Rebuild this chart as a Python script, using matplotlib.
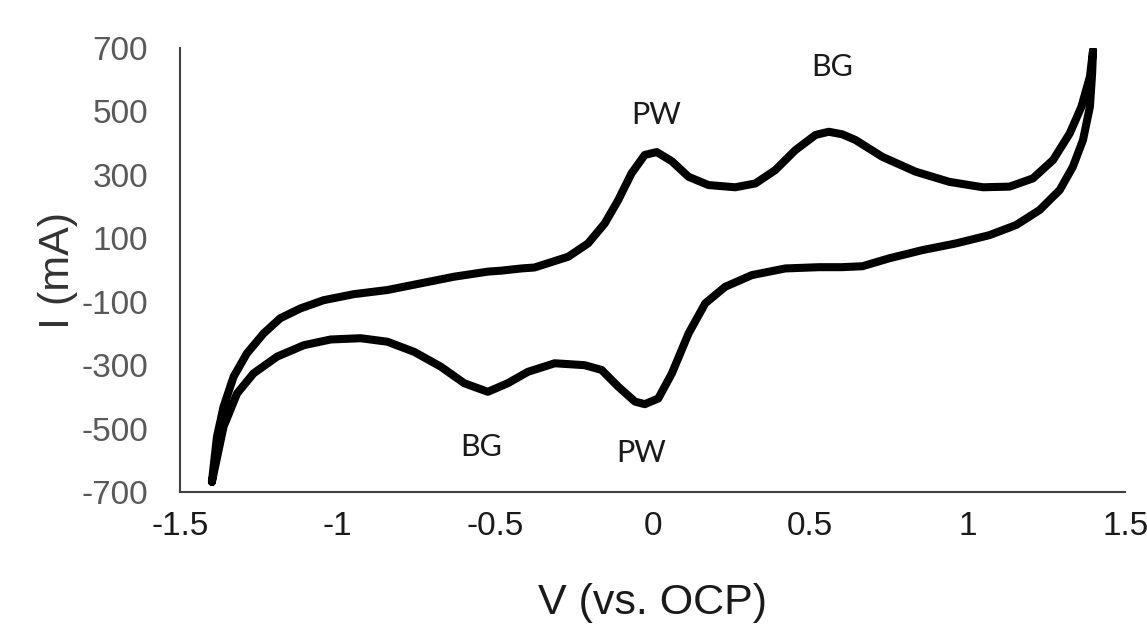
import matplotlib
matplotlib.use("Agg")
import matplotlib.pyplot as plt

# Anodic (upper) branch: from the negative vertex to the positive vertex
v_anodic = [-1.399, -1.383, -1.362, -1.330, -1.288, -1.235, -1.182, -1.118, -1.044,
            -0.948, -0.842, -0.736, -0.630, -0.523, -0.481, -0.417, -0.375, -0.268,
            -0.205, -0.152, -0.109, -0.067, -0.025, 0.013, 0.061, 0.114, 0.177,
            0.262, 0.326, 0.389, 0.453, 0.517, 0.559, 0.602, 0.644, 0.729, 0.835,
            0.942, 1.048, 1.133, 1.207, 1.271, 1.324, 1.361, 1.388, 1.398]
i_anodic = [-668, -526, -431, -336, -263, -200, -152, -121, -95,
            -76, -63, -42, -21, -5, -2, 5, 8, 42,
            84, 147, 221, 305, 363, 372, 343, 294, 268,
            261, 273, 315, 378, 426, 436, 428, 410, 357, 310,
            278, 261, 263, 289, 347, 431, 515, 610, 694]

# Cathodic (lower) branch: from the positive vertex back to the negative vertex
v_cathodic = [1.398, 1.395, 1.388, 1.366, 1.334, 1.292, 1.228, 1.154, 1.069, 0.963,
              0.857, 0.751, 0.666, 0.600, 0.528, 0.421, 0.315, 0.230, 0.167, 0.114,
              0.061, 0.018, -0.025, -0.056, -0.109, -0.162, -0.216, -0.311, -0.396,
              -0.460, -0.523, -0.598, -0.672, -0.757, -0.842, -0.927, -1.022, -1.107,
              -1.192, -1.267, -1.319, -1.362, -1.399]
i_cathodic = [694, 620, 515, 410, 326, 252, 189, 142, 110, 84,
              63, 37, 12, 9, 9, 5, -16, -53, -105, -200,
              -326, -405, -423, -415, -368, -315, -300, -294, -321,
              -357, -384, -357, -305, -258, -226, -215, -219, -237,
              -273, -326, -389, -494, -668]

# Peak labels
peak_labels = ["PW", "BG", "BG", "PW"]
peak_x = [0.010, 0.570, -0.545, -0.035]
peak_y = [489, 639, -557, -578]

x_ticks = [-1.5, -1, -0.5, 0, 0.5, 1, 1.5]
x_ticklabels = ["-1.5", "-1", "-0.5", "0", "0.5", "1", "1.5"]
y_ticks = [-700, -500, -300, -100, 100, 300, 500, 700]
y_ticklabels = ["-700", "-500", "-300", "-100", "100", "300", "500", "700"]

fig = plt.figure(figsize=(11.47, 6.24), dpi=100)
ax = fig.add_axes([0.157, 0.2115, 0.824, 0.7115])

ax.plot(v_anodic + v_cathodic, i_anodic + i_cathodic, color="black", lw=5.8,
        solid_joinstyle="round", solid_capstyle="round")

ax.set_xlim(-1.5, 1.5)
ax.set_ylim(-700, 700)
ax.set_xticks(x_ticks)
ax.set_xticklabels(x_ticklabels)
ax.set_yticks(y_ticks)
ax.set_yticklabels(y_ticklabels)

tick_font = ["Liberation Sans", "DejaVu Sans"]
for lab in ax.get_yticklabels():
    lab.set_family(tick_font)
    lab.set_fontsize(24)
    lab.set_color("#595959")
for lab in ax.get_xticklabels():
    lab.set_family(tick_font)
    lab.set_fontsize(24)
    lab.set_color("#1a1a1a")
ax.tick_params(axis="y", length=0, pad=23)
ax.tick_params(axis="x", length=0, pad=14)

for side in ["top", "right"]:
    ax.spines[side].set_visible(False)
for side in ["left", "bottom"]:
    ax.spines[side].set_color("#404040")
    ax.spines[side].set_linewidth(1.5)

label_font = ["Liberation Sans", "DejaVu Sans"]
ax.set_xlabel("V (vs. OCP)", family=label_font, fontsize=31, color="#1a1a1a")
ax.set_ylabel("I (mA)", family=label_font, fontsize=31, color="#333333")
ax.xaxis.set_label_coords(0.5, -0.25)
ax.xaxis.label.set_va("center")
ax.yaxis.set_label_coords(-0.129, 0.5)
ax.yaxis.label.set_va("center")

for txt, x, y in zip(peak_labels, peak_x, peak_y):
    ax.text(x, y, txt, family=["Lato", "DejaVu Sans"], fontsize=22,
            ha="center", va="center", color="#1a1a1a")

fig.savefig("out.png", dpi=100, facecolor="white")
